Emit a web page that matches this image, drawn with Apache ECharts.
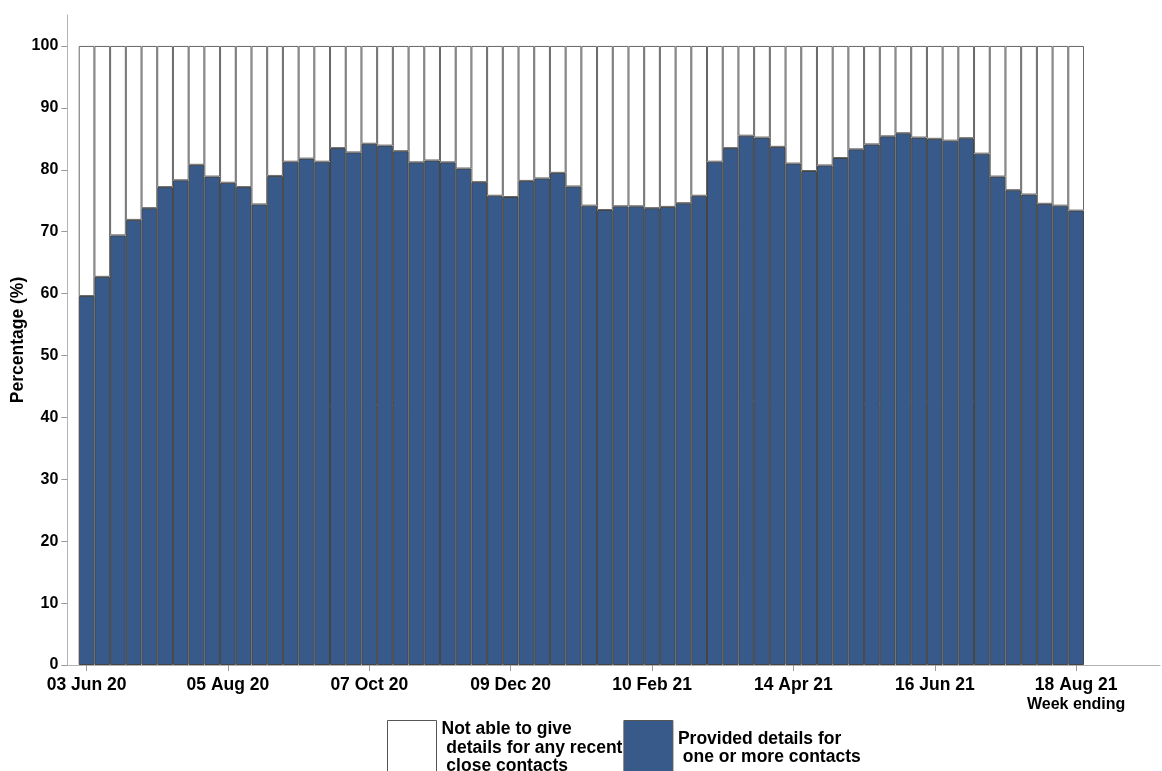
<!DOCTYPE html>
<html><head><meta charset="utf-8">
<script src="https://cdn.jsdelivr.net/npm/echarts@6/dist/echarts.min.js"></script>
<style>html,body{margin:0;padding:0;background:#fff}#c{width:1162px;height:771px}</style>
</head><body><div id="c"></div>
<script>
const categories = [
  '03 Jun 20','10 Jun 20','17 Jun 20','24 Jun 20','01 Jul 20','08 Jul 20','15 Jul 20','22 Jul 20','29 Jul 20',
  '05 Aug 20','12 Aug 20','19 Aug 20','26 Aug 20','02 Sep 20','09 Sep 20','16 Sep 20','23 Sep 20','30 Sep 20',
  '07 Oct 20','14 Oct 20','21 Oct 20','28 Oct 20','04 Nov 20','11 Nov 20','18 Nov 20','25 Nov 20','02 Dec 20',
  '09 Dec 20','16 Dec 20','23 Dec 20','30 Dec 20','06 Jan 21','13 Jan 21','20 Jan 21','27 Jan 21','03 Feb 21',
  '10 Feb 21','17 Feb 21','24 Feb 21','03 Mar 21','10 Mar 21','17 Mar 21','24 Mar 21','31 Mar 21','07 Apr 21',
  '14 Apr 21','21 Apr 21','28 Apr 21','05 May 21','12 May 21','19 May 21','26 May 21','02 Jun 21','09 Jun 21',
  '16 Jun 21','23 Jun 21','30 Jun 21','07 Jul 21','14 Jul 21','21 Jul 21','28 Jul 21','04 Aug 21','11 Aug 21',
  '18 Aug 21'
];
const provided = [
  59.6, 62.7, 69.4, 71.9, 73.8, 77.2, 78.3, 80.8, 78.9, 77.9,
  77.2, 74.4, 79.0, 81.3, 81.8, 81.3, 83.5, 82.8, 84.2, 83.9,
  83.0, 81.2, 81.5, 81.2, 80.2, 78.0, 75.8, 75.6, 78.2, 78.6,
  79.5, 77.3, 74.2, 73.5, 74.1, 74.1, 73.8, 74.0, 74.6, 75.8,
  81.3, 83.5, 85.5, 85.2, 83.7, 81.0, 79.8, 80.7, 81.9, 83.3,
  84.1, 85.4, 85.9, 85.2, 85.0, 84.7, 85.1, 82.6, 78.9, 76.7,
  76.0, 74.5, 74.2, 73.4
];
const notAble = [
  40.4, 37.3, 30.6, 28.1, 26.2, 22.8, 21.7, 19.2, 21.1, 22.1,
  22.8, 25.6, 21.0, 18.7, 18.2, 18.7, 16.5, 17.2, 15.8, 16.1,
  17.0, 18.8, 18.5, 18.8, 19.8, 22.0, 24.2, 24.4, 21.8, 21.4,
  20.5, 22.7, 25.8, 26.5, 25.9, 25.9, 26.2, 26.0, 25.4, 24.2,
  18.7, 16.5, 14.5, 14.8, 16.3, 19.0, 20.2, 19.3, 18.1, 16.7,
  15.9, 14.6, 14.1, 14.8, 15.0, 15.3, 14.9, 17.4, 21.1, 23.3,
  24.0, 25.5, 25.8, 26.6
];
const tickLabels = ['03 Jun 20','05 Aug 20','07 Oct 20','09 Dec 20','10 Feb 21','14 Apr 21','16 Jun 21','18 Aug 21'];
const yTicks = [0, 10, 20, 30, 40, 50, 60, 70, 80, 90, 100];
const seriesNames = ['Not able to give details for any recent close contacts', 'Provided details for one or more contacts'];
const legendLabels = ['Not able to give\n details for any recent\n close contacts', 'Provided details for\n one or more contacts'];
const xTitle = 'Week ending';
const yTitle = 'Percentage (%)';

const FONT = "'Liberation Sans', Arial, sans-serif";
const lastLabel = tickLabels[tickLabels.length - 1];
const showTick = (i, v) => tickLabels.indexOf(v) >= 0;

const chart = echarts.init(document.getElementById('c'), null, {renderer: 'canvas'});
chart.setOption({
  animation: false,
  backgroundColor: '#fff',
  grid: [
    {left: 78.7, right: 78, top: 15, bottom: 106, containLabel: false, outerBoundsMode: 'none'},
    {left: 67.3, right: 2, top: 15, bottom: 106, containLabel: false, outerBoundsMode: 'none'}
  ],
  xAxis: [
    {
      type: 'category',
      gridIndex: 0,
      data: categories,
      boundaryGap: true,
      axisLine: {show: false},
      axisTick: {show: true, alignWithLabel: true, interval: showTick, length: 6, lineStyle: {color: '#9a9a9a'}},
      axisLabel: {
        interval: showTick,
        margin: 11,
        formatter: function (v) {
          const lab = '{a|' + v + '}';
          return v === lastLabel ? lab + '\n{b|' + xTitle + '}' : lab;
        },
        rich: {
          a: {fontSize: 17.5, fontWeight: 'bold', color: '#000', fontFamily: FONT, lineHeight: 19},
          b: {fontSize: 16, fontWeight: 'bold', color: '#000', fontFamily: FONT, lineHeight: 19}
        }
      }
    },
    {
      type: 'value',
      gridIndex: 1,
      min: 0,
      max: 1,
      axisLine: {show: true, onZero: false, lineStyle: {color: '#b3b3b3', width: 1}},
      axisTick: {show: false},
      axisLabel: {show: false},
      splitLine: {show: false}
    }
  ],
  yAxis: [
    {
      type: 'value',
      gridIndex: 0,
      min: 0,
      max: 105,
      interval: 10,
      offset: 11.4,
      splitLine: {show: false},
      axisLine: {show: true, onZero: false, lineStyle: {color: '#b3b3b3', width: 1}},
      axisTick: {show: true, customValues: yTicks, length: 6, lineStyle: {color: '#9a9a9a'}},
      axisLabel: {customValues: yTicks, margin: 9, fontSize: 16, fontWeight: 'bold', color: '#000', fontFamily: FONT},
      name: yTitle,
      nameLocation: 'middle',
      nameGap: 40,
      nameMoveOverlap: false,
      nameTextStyle: {fontSize: 17.5, fontWeight: 'bold', color: '#000', fontFamily: FONT}
    },
    {
      type: 'value',
      gridIndex: 1,
      show: false,
      min: 0,
      max: 1
    }
  ],
  legend: {
    data: [seriesNames[0], seriesNames[1]],
    left: 387,
    top: 720,
    padding: 0,
    itemWidth: 49,
    itemHeight: 55,
    itemGap: 1,
    icon: 'rect',
    selectedMode: false,
    formatter: function (name) { return legendLabels[seriesNames.indexOf(name)]; },
    textStyle: {fontSize: 17.5, fontWeight: 'bold', color: '#000', fontFamily: FONT, lineHeight: 18.5},
    itemStyle: {borderColor: '#555', borderWidth: 1}
  },
  series: [
    {
      name: seriesNames[1],
      type: 'bar',
      stack: 'total',
      barWidth: '100%',
      data: provided,
      itemStyle: {color: '#375a8b', borderColor: '#444', borderWidth: 1}
    },
    {
      name: seriesNames[0],
      type: 'bar',
      stack: 'total',
      barWidth: '100%',
      data: notAble,
      itemStyle: {color: '#ffffff', borderColor: '#666', borderWidth: 1}
    }
  ]
});
</script>
</body></html>
